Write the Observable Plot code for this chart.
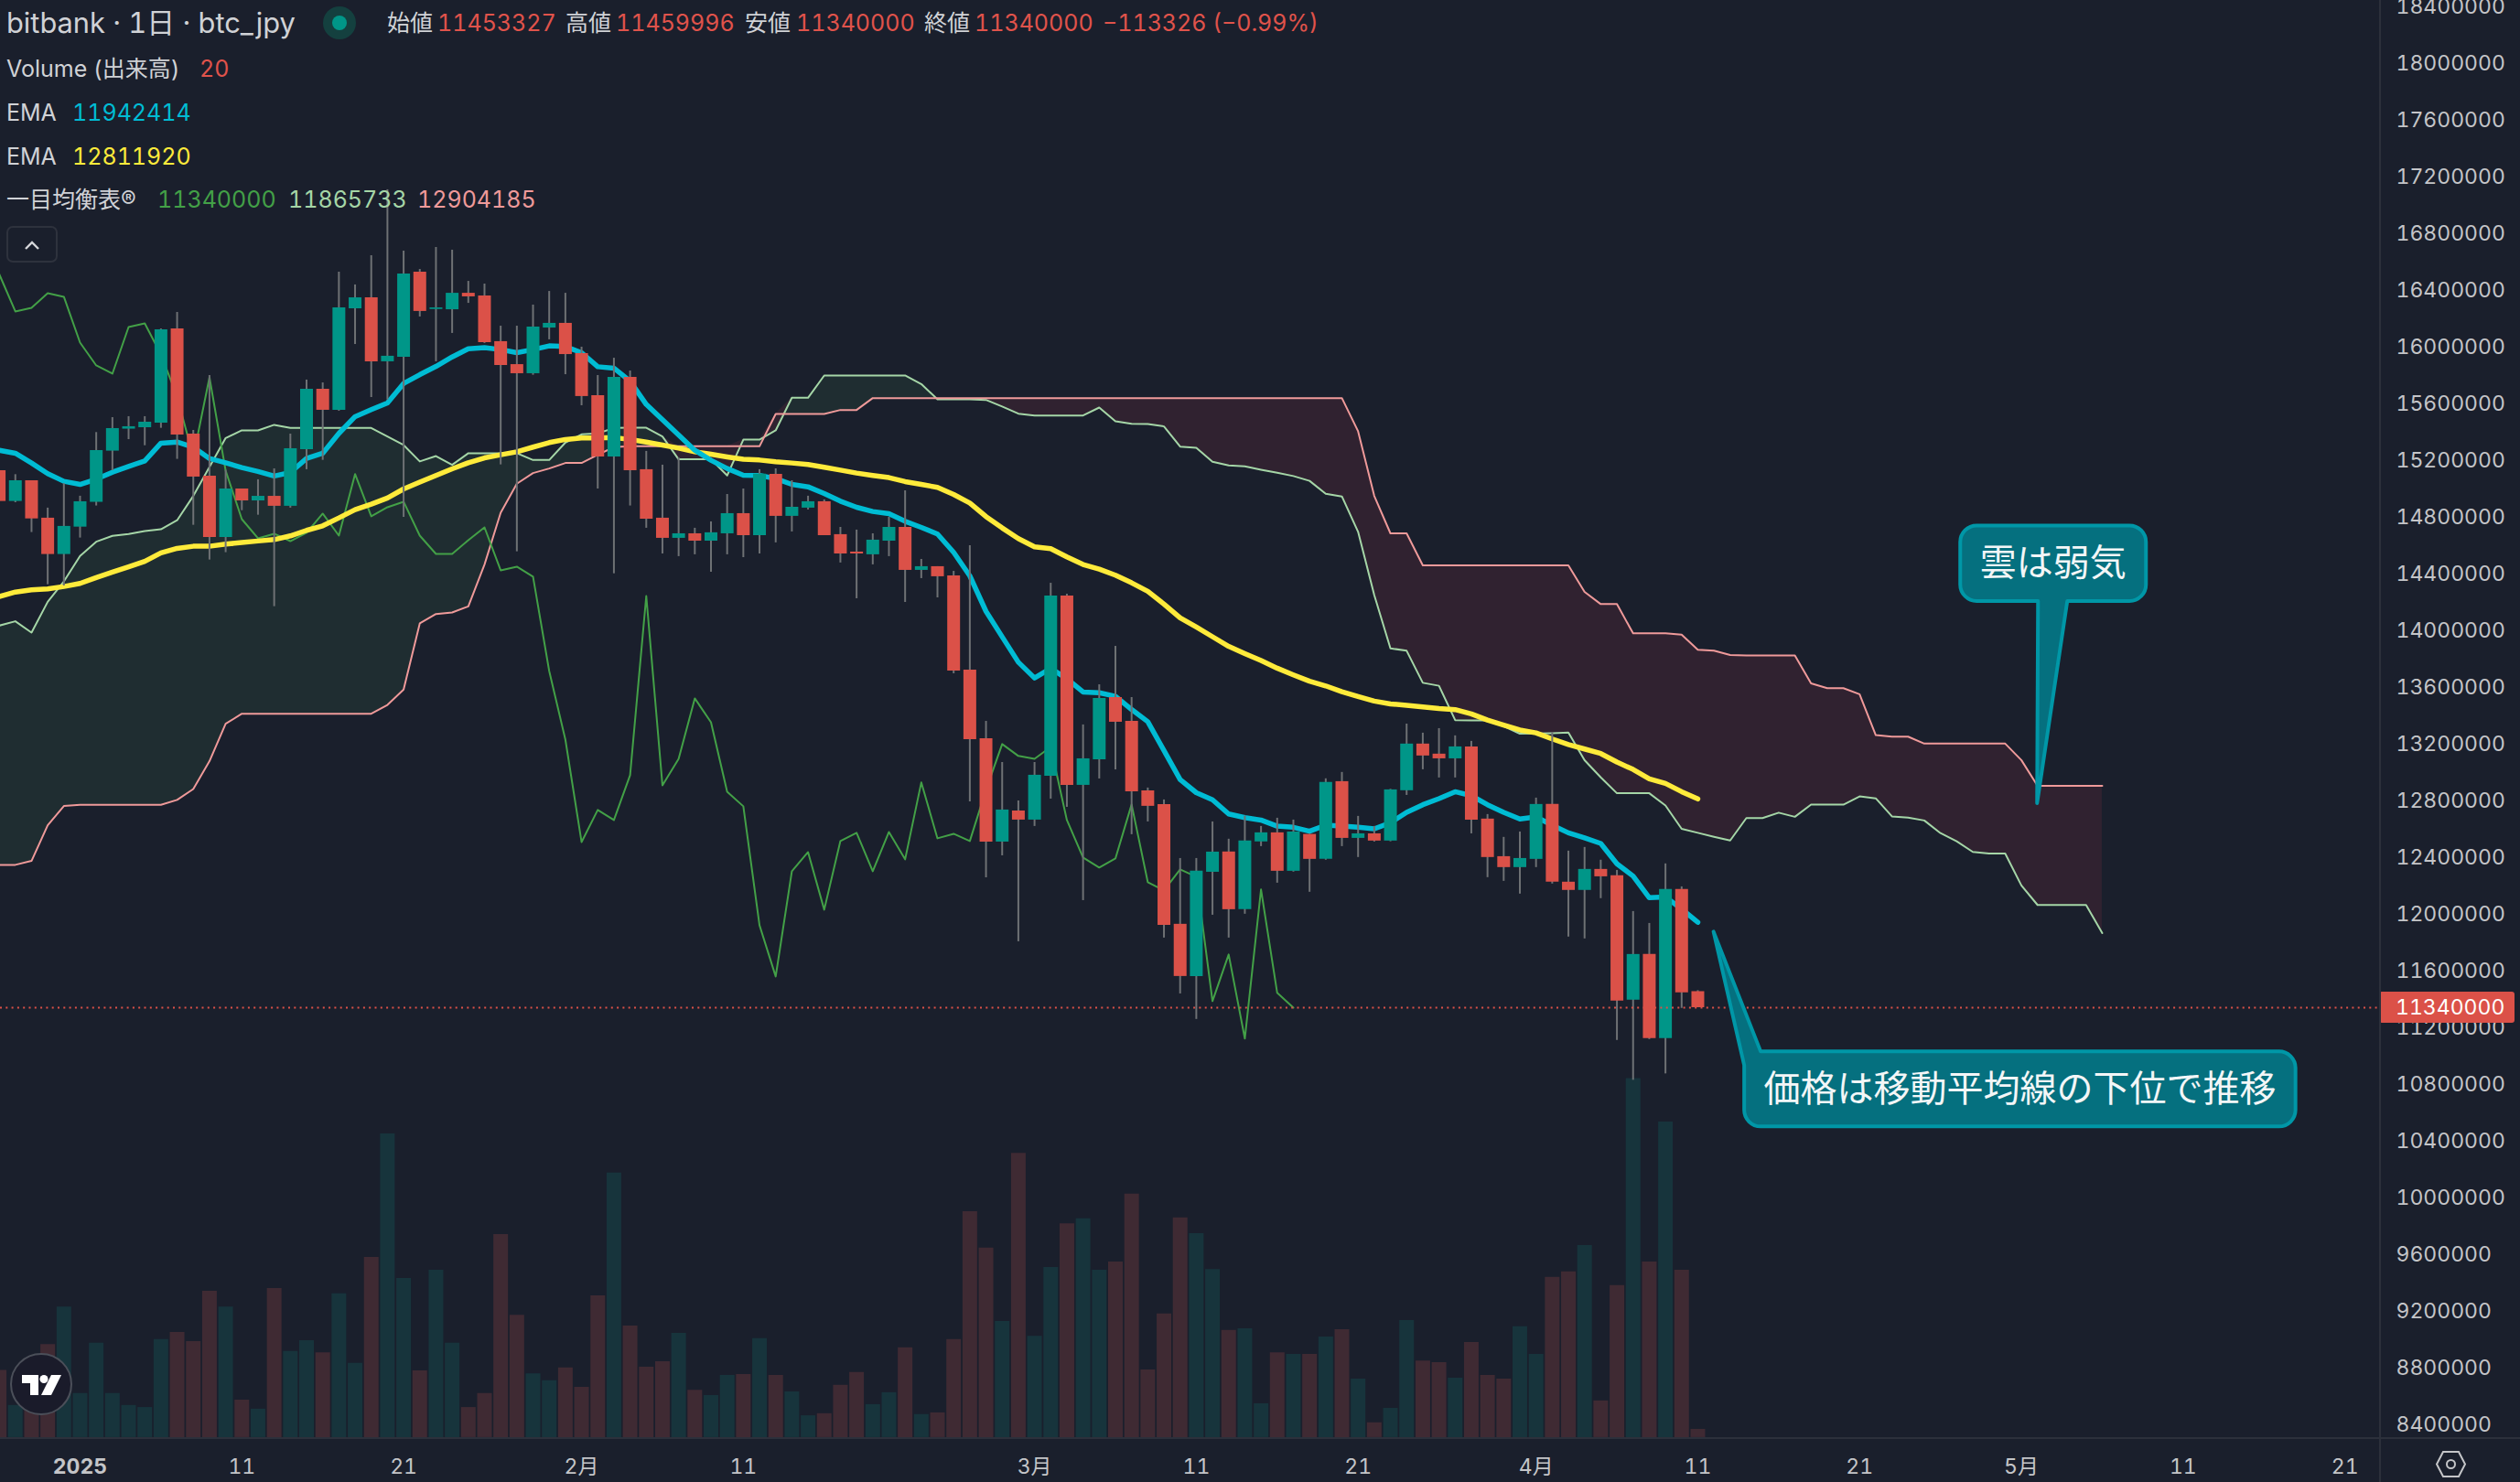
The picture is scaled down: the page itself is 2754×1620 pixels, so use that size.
<!DOCTYPE html>
<html lang="ja">
<head>
<meta charset="utf-8">
<title>bitbank 1D btc_jpy</title>
<script src="https://cdn.jsdelivr.net/npm/d3@7"></script>
<script src="https://cdn.jsdelivr.net/npm/@observablehq/plot@0.6"></script>
<style>
html,body{margin:0;padding:0;background:#1a1f2c;overflow:hidden;width:2754px;height:1620px}
#wrap{position:relative;width:2754px;height:1620px;font-family:Inter,"Noto Sans CJK JP",sans-serif}
#wrap svg{display:block}
#wrap svg text{font-variant-numeric:tabular-nums}
.t{position:absolute;white-space:nowrap;line-height:1;transform:translateY(-50%);font-size:25px;color:#d0d2d6;font-variant-numeric:tabular-nums}
.chrome{position:absolute;background:#2c303b}
</style>
</head>
<body>
<div id="wrap"></div>
<script>
// Values are in thousand JPY; first candle is 2024-12-27 (day -5 from 2025-01-01)
const firstDay = -5;
const UNIT = 1000;
const opens = [
15127,14910,15056,14792,14536,14729,14904,15265,15420,15430,15462,16127,15385,15088,14656,14998,14914,14946,14876,15275,
15701,15553,16269,16346,15895,15927,16527,16264,16262,16378,16359,16037,15875,15811,16133,16166,15953,15656,15224,15785,
15134,14792,14650,14682,14630,14682,14824,14669,15101,14805,14863,14908,14676,14553,14534,14630,14727,14424,14450,14385,
13721,13237,12508,12727,12663,12972,14243,12908,13088,13527,13359,12869,12772,11928,11560,12295,12438,12031,12509,12573,
12302,12562,12386,12934,12534,12566,12515,12870,13199,13128,13095,13179,12670,12405,12328,12386,12773,12225,12167,12315,
12270,11393,11715,11122,12173,11453];
const closes = [
14910,15056,14787,14536,14734,14908,15269,15424,15437,15469,16120,15379,15082,14656,14998,14914,14946,14876,15282,15701,
15553,16275,16346,15895,15934,16514,16250,16275,16378,16353,16030,15869,15811,16140,16166,15946,15650,15224,15785,15127,
14785,14650,14682,14630,14689,14824,14669,15103,14805,14869,14908,14669,14540,14540,14637,14727,14424,14450,14379,13714,
13230,12508,12734,12663,12979,14243,12908,13095,13521,13353,12863,12760,11921,11560,12302,12437,12031,12515,12573,12302,
12579,12386,12928,12534,12566,12515,12876,13199,13115,13095,13179,12663,12399,12328,12392,12773,12225,12167,12315,12263,
11386,11715,11122,12173,11444,11340];
const highs = [
15127,15099,15056,14863,15035,14947,15396,15501,15508,15508,16127,16243,15411,15798,15130,14998,15063,15140,15385,15766,
15746,16527,16437,16643,17108,16675,16546,16701,16682,16462,16443,16146,16146,16295,16391,16378,15998,15798,15920,15830,
15263,15166,15217,14721,14766,14959,14998,15134,15140,15056,14947,14921,14727,14708,14682,14798,14985,14501,14450,14417,
14598,13359,13069,12798,13069,14333,14256,13334,13617,13888,13527,12889,12805,12392,12392,12650,12528,12691,12618,12676,
12663,12562,12954,12999,12689,12618,12880,13340,13276,13308,13257,13218,12702,12541,12579,12818,13282,12444,12470,12380,
12308,12018,11934,12354,12192,11460];
const lows = [
14910,14901,14691,14323,14314,14652,14878,15127,15346,15303,15426,15207,14742,14497,14549,14845,14813,14168,14863,15134,
15200,15546,16017,15643,15626,14798,16211,15895,16095,16307,16024,15168,14555,15800,16050,15804,15585,14998,14400,14878,
14721,14540,14521,14534,14411,14534,14514,14540,14618,14695,14850,14669,14476,14224,14463,14521,14198,14366,14230,13695,
12792,12256,12411,11805,12618,12811,12753,12095,12953,13017,12560,12650,11831,11437,11257,11992,11831,11999,12476,12218,
12296,12154,12380,12476,12399,12508,12510,12837,13018,12960,12960,12566,12257,12231,12141,12328,12212,11838,11825,12109,
11109,10828,11115,10873,11335,11340];
const volumes = [
163,78,128,226,317,107,229,107,78,73,238,255,233,355,317,91,69,362,209,235,
206,349,180,437,737,386,162,406,229,73,107,493,297,155,138,169,122,344,642,271,
171,184,253,115,102,151,153,240,151,111,53,58,127,158,80,109,218,56,60,238,
548,460,282,690,246,413,519,531,406,426,591,164,300,533,495,408,260,264,82,206,
202,202,244,262,142,36,71,284,186,182,144,231,151,142,269,202,389,402,466,89,
369,871,426,766,406,20];
const ema20 = [
15271,15250,15181,15106,15052,15030,15067,15116,15157,15196,15321,15329,15293,15213,15183,15149,15121,15089,15114,15213,
15250,15390,15508,15557,15604,15742,15804,15862,15929,15987,15994,15981,15959,15981,16007,16002,15959,15860,15850,15758,
15594,15486,15379,15271,15200,15142,15095,15093,15071,15030,15013,14966,14912,14869,14839,14824,14770,14727,14680,14551,
14385,14135,13955,13776,13665,13733,13660,13566,13561,13536,13443,13357,13153,12949,12856,12806,12706,12680,12663,12620,
12612,12584,12627,12620,12612,12601,12644,12717,12771,12814,12863,12835,12771,12717,12670,12685,12627,12573,12537,12498,
12354,12268,12115,12121,12035,11942];
const ema50 = [
14239,14271,14286,14293,14310,14332,14373,14411,14448,14487,14547,14579,14594,14594,14609,14620,14631,14641,14667,14706,
14738,14794,14852,14891,14934,14998,15046,15093,15140,15183,15217,15239,15260,15293,15325,15347,15357,15357,15360,15347,
15329,15308,15286,15260,15243,15224,15207,15202,15190,15181,15170,15151,15131,15110,15093,15078,15050,15030,15009,14959,
14899,14803,14723,14648,14590,14577,14519,14465,14433,14390,14336,14276,14186,14089,14024,13956,13888,13837,13788,13734,
13687,13642,13609,13568,13534,13502,13482,13472,13461,13450,13442,13412,13368,13332,13298,13278,13235,13196,13164,13132,
13072,13020,12954,12921,12863,12812];
const spanA = [
14034,14065,13985,14202,14346,14525,14626,14667,14680,14701,14714,14777,14949,15153,15357,15411,15411,15450,15428,15428,
15428,15428,15428,15428,15368,15308,15192,15230,15168,15250,15250,15250,15250,15202,15202,15325,15383,15390,15428,15430,
15430,15368,15207,15207,15207,15093,15346,15346,15411,15641,15641,15798,15798,15798,15798,15798,15798,15738,15630,15630,
15630,15626,15579,15529,15516,15516,15516,15516,15572,15475,15458,15456,15439,15297,15288,15190,15164,15157,15134,15112,
15089,15055,14964,14945,14696,14250,13874,13857,13631,13610,13368,13366,13366,13325,13272,13274,13276,13280,13085,12964,
12852,12852,12852,12766,12601,12573,12545,12519,12677,12677,12715,12686,12772,12772,12772,12830,12816,12689,12680,12660,
12571,12513,12438,12427,12427,12202,12064,12064,12064,12064,11866];
const spanB = [
12347,12347,12375,12626,12762,12770,12770,12770,12770,12770,12770,12805,12882,13078,13342,13413,13413,13413,13413,13413,
13413,13413,13413,13413,13475,13583,14050,14116,14127,14170,14465,14830,15035,15110,15142,15181,15181,15239,15293,15299,
15299,15299,15299,15299,15299,15299,15299,15299,15527,15527,15527,15527,15555,15555,15639,15639,15639,15639,15639,15639,
15639,15639,15639,15639,15639,15639,15639,15639,15639,15639,15639,15639,15639,15639,15639,15639,15639,15639,15639,15639,
15639,15639,15639,15639,15405,14949,14685,14685,14459,14459,14459,14459,14459,14459,14459,14459,14459,14459,14272,14186,
14186,13980,13980,13980,13971,13864,13857,13827,13824,13824,13824,13824,13627,13593,13593,13550,13262,13251,13251,13202,
13202,13202,13202,13202,13202,13086,12904,12904,12904,12904,12904];
const lastPrice = 11340000;
const priceTicks = d3.range(8400000, 18800000, 400000);
const timeTickLabels = ["11","21","2月","11","3月","11","21","4月","11","21","5月","11","21"];
const timeTickOffsets = [10,20,31,41,59,69,79,90,100,110,120,130,140];
const callouts = [
  {day:121, price:12779000, text:"雲は弱気", box:[-84,119,-303.5,-221], tail:"bottom", base:[1,33]},
  {day:101, price:11873000, text:"価格は移動平均線の下位で推移", box:[33.5,636,131,213], tail:"corner", base:[51.5,146]}
];

const C = {bg:"#1a1f2c", up:"#009688", down:"#db5148", wick:"#6e7174",
  volUp:"#17343c", volDown:"#3f2a33", cloudUp:"#1f2d31", cloudDown:"#302230",
  cyan:"#00bcd4", yellow:"#ffeb3b", lag:"#43a047", a:"#a5d6a7", b:"#ef9a9a", axis:"#c4c5c8"};

const DAY_MS = 864e5;
const day = d => new Date(Date.UTC(2025, 0, 1) + d * DAY_MS);
const candles = opens.map((o, i) => ({
  date: day(firstDay + i), open: o*UNIT, close: closes[i]*UNIT, high: highs[i]*UNIT, low: lows[i]*UNIT,
  vol: volumes[i], ema20: ema20[i]*UNIT, ema50: ema50[i]*UNIT, up: closes[i] >= o
}));
const cloud = spanA.map((a, i) => ({date: day(firstDay + i), a: a*UNIT, b: spanB[i]*UNIT, top: Math.max(a, spanB[i])*UNIT}));
// lagging span = closes plotted 25 days earlier
const lagging = closes.slice(25).map((c, i) => ({date: day(firstDay + i), v: c*UNIT}));
// volume pane shares the frame with price: map volume onto the lower part of the price axis
const volToY = d3.scaleLinear().domain([0, 1000]).range([8308000, 8308000 + 1000*2906]);

function roundedPath(l, r, t, b, c, tail, tx, ty, base) {
  if (tail === "bottom") {
    return `M${l+c},${t}H${r-c}A${c},${c} 0 0 1 ${r},${t+c}V${b-c}A${c},${c} 0 0 1 ${r-c},${b}H${base[1]+tx}L${tx},${ty}L${base[0]+tx},${b}H${l+c}A${c},${c} 0 0 1 ${l},${b-c}V${t+c}A${c},${c} 0 0 1 ${l+c},${t}Z`;
  }
  return `M${tx+base[0]},${t}H${r-c}A${c},${c} 0 0 1 ${r},${t+c}V${b-c}A${c},${c} 0 0 1 ${r-c},${b}H${l+c}A${c},${c} 0 0 1 ${l},${b-c}V${ty+base[1]}L${tx},${ty}Z`;
}
function calloutMark(index, {x, y}) {
  const g = d3.create("svg:g");
  for (const c of callouts) {
    const tx = x(day(c.day)), ty = y(c.price);
    const [l, r, t, b] = [tx+c.box[0], tx+c.box[1], ty+c.box[2], ty+c.box[3]];
    g.append("path").attr("d", roundedPath(l, r, t, b, 18, c.tail, tx, ty, c.base))
      .attr("fill", "#05707f").attr("stroke", "#0097a7").attr("stroke-width", 4).attr("stroke-linejoin","round");
    g.append("text").attr("x", (l+r)/2).attr("y", (t+b)/2).attr("dy", "0.33em").attr("text-anchor","middle")
      .attr("fill", "#f3f6f7").attr("font-size", 40).attr("font-family", '"Noto Sans CJK JP"').text(c.text);
  }
  return g.node();
}
function priceTag(index, {y}, values, dim) {
  const g = d3.create("svg:g");
  const py = y(lastPrice);
  const x0 = dim.width - dim.marginRight;
  g.append("rect").attr("x", x0).attr("y", py-17).attr("width", 148).attr("height", 34).attr("rx", 3).attr("fill", C.down);
  g.append("text").attr("x", x0 + 18).attr("y", py).attr("dy", "0.36em").attr("text-anchor", "start")
    .attr("fill", "#fff").attr("font-size", 23).attr("font-family", "Inter").text(String(lastPrice));
  return g.node();
}

const plot = Plot.plot({
  width: 2754, height: 1620,
  marginLeft: 0, marginRight: 154, marginTop: 0, marginBottom: 48,
  style: {background: C.bg, fontFamily: 'Inter,"Noto Sans CJK JP",sans-serif'},
  x: {type: "utc", domain: [day(-4.92), day(142.14)]},
  y: {type: "linear", domain: [8301200, 18443000]},
  marks: [
    Plot.ruleX(candles, {x: "date", y1: () => volToY(0), y2: d => volToY(d.vol), stroke: d => d.up ? C.volUp : C.volDown, strokeWidth: 16}),
    Plot.areaY(cloud, {x: "date", y1: "b", y2: "top", fill: C.cloudUp, curve: "linear"}),
    Plot.areaY(cloud, {x: "date", y1: "a", y2: "top", fill: C.cloudDown, curve: "linear"}),
    Plot.line(cloud, {x: "date", y: "a", stroke: C.a, strokeWidth: 2}),
    Plot.line(cloud, {x: "date", y: "b", stroke: C.b, strokeWidth: 2}),
    Plot.line(lagging, {x: "date", y: "v", stroke: C.lag, strokeWidth: 2}),
    Plot.line(candles, {x: "date", y: "ema50", stroke: C.yellow, strokeWidth: 5.5, strokeLinejoin:"round"}),
    Plot.line(candles, {x: "date", y: "ema20", stroke: C.cyan, strokeWidth: 5.5, strokeLinejoin:"round"}),
    Plot.ruleX(candles, {x: "date", y1: "low", y2: "high", stroke: C.wick, strokeWidth: 2}),
    Plot.ruleX(candles, {x: "date", y1: "open", y2: "close", stroke: d => d.up ? C.up : C.down, strokeWidth: 14}),
    Plot.ruleY([lastPrice], {stroke: C.down, strokeWidth: 2, strokeDasharray: "2 4.3"}),
    Plot.axisY({anchor: "right", ticks: priceTicks, tickFormat: d => String(d), tickSize: 0, tickPadding: 18,
      fontSize: 23, fontFamily: "Inter", fill: C.axis, label: null}),
    Plot.axisX({anchor: "bottom", ticks: timeTickOffsets.map(day),
      tickFormat: d => timeTickLabels[timeTickOffsets.findIndex(o => +day(o) === +d)], tickSize: 0, tickPadding: 22,
      fontSize: 23, fontFamily: 'Inter,"Noto Sans CJK JP"', fill: C.axis, label: null}),
    Plot.text([day(0)], {x: d => d, frameAnchor: "bottom", dy: 31, text: () => "2025", fontSize: 23, fontWeight: 700, fill: C.axis, fontFamily: "Inter", lineAnchor: "middle"}),
    priceTag,
    calloutMark
  ]
});
const wrap = document.getElementById("wrap");
wrap.appendChild(plot);

function label(x, y, text, color, size) {
  const s = document.createElement("div");
  s.className = "t";
  s.style.left = x + "px"; s.style.top = y + "px";
  if (color) s.style.color = color;
  if (size) s.style.fontSize = size + "px";
  s.textContent = text;
  wrap.appendChild(s);
}
label(7, 25, "bitbank · 1日 · btc_jpy", null, 30.8);
const R = "#e0534b";
[[423,"始値"],[618,"高値"],[814,"安値"],[1010,"終値"]].forEach(([x,t]) => label(x, 25, t));
[[478,"11453327"],[673,"11459996"],[870,"11340000"],[1065,"11340000"],[1205,"−113326 (−0.99%)"]].forEach(([x,t]) => label(x, 25, t, R));
label(7, 75, "Volume (出来高)"); label(218, 75, "20", R);
label(7, 123, "EMA"); label(79, 123, "11942414", C.cyan);
label(7, 171, "EMA"); label(79, 171, "12811920", C.yellow);
label(7, 218, "一目均衡表®"); label(172, 218, "11340000", C.lag); label(315, 218, "11865733", C.a); label(456, 218, "12904185", C.b);

// chrome: panel borders, status dot, collapse button, logo, settings icon
wrap.insertAdjacentHTML("beforeend", `
<div class="chrome" style="left:2600px;top:0;width:2px;height:1620px"></div>
<div class="chrome" style="left:0;top:1571px;width:2754px;height:2px"></div>
<svg style="position:absolute;left:350px;top:4px" width="42" height="42"><circle cx="21" cy="21" r="18" fill="#14403f"/><circle cx="21" cy="21" r="8" fill="#009688"/></svg>
<svg style="position:absolute;left:7px;top:247px" width="56" height="40"><rect x="1" y="1" width="54" height="38" rx="6" fill="#1a1f2c" stroke="#2e323d" stroke-width="2"/><path d="M21 25l7-7 7 7" fill="none" stroke="#d5d6d9" stroke-width="2.4"/></svg>
<svg style="position:absolute;left:10px;top:1478px" width="70" height="70"><circle cx="35" cy="35" r="33" fill="#1a1b2a" stroke="#4b4f59" stroke-width="2"/><g transform="translate(14,25)" fill="#fff"><path d="M0 0H18V22H9V9H0Z"/><circle cx="24" cy="4.5" r="4.5"/><path d="M32 0H43L32 22H21Z"/></g></svg>
<svg style="position:absolute;left:2660px;top:1584px" width="38" height="34" fill="none" stroke="#c4c5c8" stroke-width="2"><path d="M10 3H27L34 16.5L27 30H10L3 16.5Z"/><circle cx="18.5" cy="16.5" r="4.5"/></svg>
`);
</script>
</body>
</html>
